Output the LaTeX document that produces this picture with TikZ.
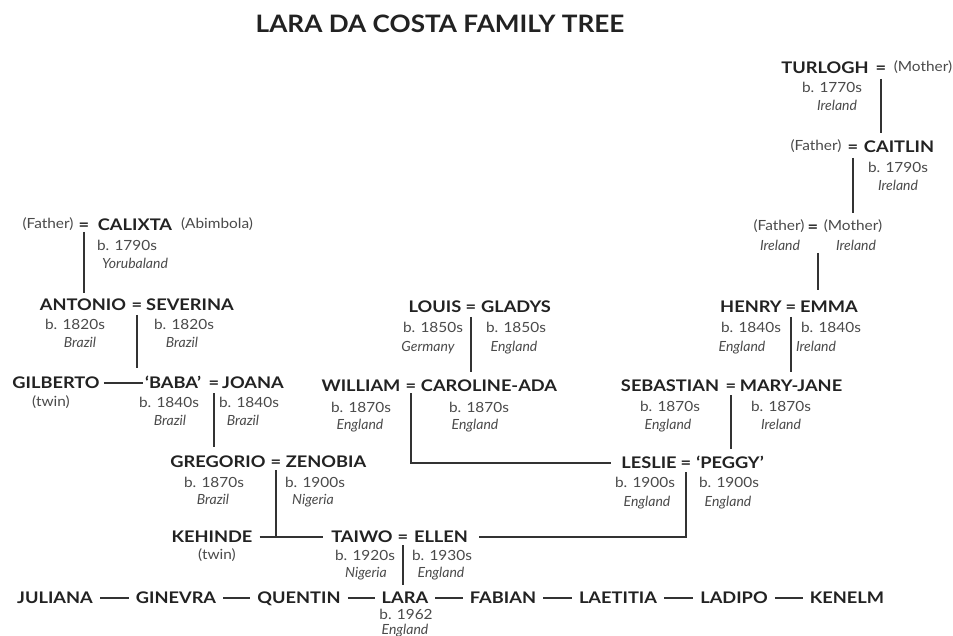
\documentclass[tikz,border=0pt]{standalone}
\usepackage{fontspec}
\setmainfont{Lato}
\newfontfamily\namefont[FakeStretch=1.14]{Lato}
\newfontfamily\titlefont[FakeStretch=1.09]{Lato}
\newfontfamily\detfont[FakeStretch=1.1]{Lato}
\definecolor{namec}{HTML}{222222}
\definecolor{detc}{HTML}{4a4a4a}
\definecolor{linec}{HTML}{333333}
\begin{document}
\begin{tikzpicture}[x=1pt,y=-1pt,
  title/.style={font=\titlefont\fontsize{24}{28}\selectfont\bfseries, text=namec, inner sep=1pt},
  nm/.style={font=\namefont\fontsize{16}{18}\selectfont\bfseries, text=namec, inner sep=1pt, text height=11.5pt, text depth=0pt},
  pr/.style={font=\detfont\fontsize{14}{16}\selectfont, text=detc, inner sep=1pt, text height=10pt, text depth=2pt},
  bd/.style={font=\detfont\fontsize{14}{16}\selectfont, text=detc, inner sep=1pt, text height=10pt, text depth=0pt},
  pl/.style={font=\fontsize{14}{16}\selectfont\itshape, text=detc, inner sep=1pt, text height=10pt, text depth=2pt},
  ln/.style={draw=linec, line width=1.6pt},
  vl/.style={ln, shorten <=9pt, shorten >=7pt},
  sib/.style={ln, shorten <=6pt, shorten >=6pt}]
\fill[white] (0,0) rectangle (953,636);
\useasboundingbox (0,0) rectangle (953,636);

\node[title] (title) at (440,24) {LARA DA COSTA FAMILY TREE};

% Turlogh
\node[nm] (turlogh) at (825,68) {TURLOGH};
\node[nm] (eqT) at (881,68) {=};
\node[pr] (motherT) at (923,68) {(Mother)};
\node[bd] (turloghB) at (832,88) {b. 1770s};
\node[pl] (turloghP) at (837,107) {Ireland};

% Caitlin
\node[pr] (fatherC) at (816,147) {(Father)};
\node[nm] (eqC) at (853,147) {=};
\node[nm] (caitlin) at (899,147) {CAITLIN};
\node[bd] (caitlinB) at (898,168) {b. 1790s};
\node[pl] (caitlinP) at (898,187) {Ireland};

% Parents of Henry
\node[pr] (fatherE) at (779,227) {(Father)};
\node[nm] (eqE) at (813,227) {=};
\node[pr] (motherE) at (853,227) {(Mother)};
\node[pl] (fatherEP) at (780,247) {Ireland};
\node[pl] (motherEP) at (856,247) {Ireland};

% Henry
\node[nm] (henry) at (751,307) {HENRY};
\node[nm] (eqH) at (791,307) {=};
\node[nm] (emma) at (829,307) {EMMA};
\node[bd] (henryB) at (751,328) {b. 1840s};
\node[bd] (emmaB) at (831,328) {b. 1840s};
\node[pl] (henryP) at (742,347) {England};
\node[pl] (emmaP) at (816,347) {Ireland};

% Sebastian
\node[nm] (sebastian) at (670,386) {SEBASTIAN};
\node[nm] (eqS) at (731,386) {=};
\node[nm] (maryjane) at (791,386) {MARY-JANE};
\node[bd] (sebastianB) at (670,406) {b. 1870s};
\node[bd] (maryjaneB) at (781,406) {b. 1870s};
\node[pl] (sebastianP) at (668,425) {England};
\node[pl] (maryjaneP) at (781,425) {Ireland};

% Leslie
\node[nm] (leslie) at (649,463) {LESLIE};
\node[nm] (eqL) at (686,463) {=};
\node[nm] (peggy) at (730,463) {‘PEGGY’};
\node[bd] (leslieB) at (645,482) {b. 1900s};
\node[bd] (peggyB) at (729,482) {b. 1900s};
\node[pl] (leslieP) at (647,502) {England};
\node[pl] (peggyP) at (728,502) {England};

% Louis
\node[nm] (louis) at (435,307) {LOUIS};
\node[nm] (eqLo) at (471,307) {=};
\node[nm] (gladys) at (516,307) {GLADYS};
\node[bd] (louisB) at (433,328) {b. 1850s};
\node[bd] (gladysB) at (516,328) {b. 1850s};
\node[pl] (louisP) at (428,347) {Germany};
\node[pl] (gladysP) at (514,347) {England};

% William
\node[nm] (william) at (361,386) {WILLIAM};
\node[nm] (eqW) at (411,386) {=};
\node[nm] (caroline) at (489,386) {CAROLINE-ADA};
\node[bd] (williamB) at (361,407) {b. 1870s};
\node[bd] (carolineB) at (479,407) {b. 1870s};
\node[pl] (williamP) at (360,425) {England};
\node[pl] (carolineP) at (475,425) {England};

% Calixta
\node[pr] (fatherX) at (48,225) {(Father)};
\node[nm] (eqX) at (84,225) {=};
\node[nm] (calixta) at (135,225) {CALIXTA};
\node[pr] (abimbola) at (217,225) {(Abimbola)};
\node[bd] (calixtaB) at (127,246) {b. 1790s};
\node[pl] (calixtaP) at (135,265) {Yorubaland};

% Antonio
\node[nm] (antonio) at (83,305) {ANTONIO};
\node[nm] (eqA) at (137,305) {=};
\node[nm] (severina) at (190,305) {SEVERINA};
\node[bd] (antonioB) at (75,325) {b. 1820s};
\node[bd] (severinaB) at (184,325) {b. 1820s};
\node[pl] (antonioP) at (80,343) {Brazil};
\node[pl] (severinaP) at (182,343) {Brazil};

% Gilberto / Baba
\node[nm] (gilberto) at (56,383) {GILBERTO};
\node[pr] (gilbertoT) at (51,402) {(twin)};
\node[nm] (baba) at (173,383) {‘BABA’};
\node[nm] (eqB) at (214,383) {=};
\node[nm] (joana) at (253,383) {JOANA};
\node[bd] (babaB) at (169,402) {b. 1840s};
\node[bd] (joanaB) at (249,402) {b. 1840s};
\node[pl] (babaP) at (170,421) {Brazil};
\node[pl] (joanaP) at (243,421) {Brazil};

% Gregorio
\node[nm] (gregorio) at (218,462) {GREGORIO};
\node[nm] (eqG) at (276,462) {=};
\node[nm] (zenobia) at (326,462) {ZENOBIA};
\node[bd] (gregorioB) at (214,482) {b. 1870s};
\node[bd] (zenobiaB) at (315,482) {b. 1900s};
\node[pl] (gregorioP) at (213,500) {Brazil};
\node[pl] (zenobiaP) at (313,500) {Nigeria};

% Kehinde / Taiwo
\node[nm] (kehinde) at (212,537) {KEHINDE};
\node[pr] (kehindeT) at (217,555) {(twin)};
\node[nm] (taiwo) at (362,537) {TAIWO};
\node[nm] (eqTw) at (403,537) {=};
\node[nm] (ellen) at (441,537) {ELLEN};
\node[bd] (taiwoB) at (365,555) {b. 1920s};
\node[bd] (ellenB) at (442,555) {b. 1930s};
\node[pl] (taiwoP) at (366,573) {Nigeria};
\node[pl] (ellenP) at (441,573) {England};

% Bottom row
\node[nm] (juliana) at (55,598) {JULIANA};
\node[nm] (ginevra) at (176,598) {GINEVRA};
\node[nm] (quentin) at (299,598) {QUENTIN};
\node[nm] (lara) at (405,598) {LARA};
\node[nm] (fabian) at (503,598) {FABIAN};
\node[nm] (laetitia) at (618,598) {LAETITIA};
\node[nm] (ladipo) at (734,598) {LADIPO};
\node[nm] (kenelm) at (847,598) {KENELM};
\node[bd] (laraB) at (406,614) {b. 1962};
\node[pl] (laraP) at (405,630) {England};

% Descent lines
\draw[vl, shorten <=11pt] (eqT.center) -- (eqT.center |- caitlin.north);
\draw[vl, shorten <=11pt] (eqC.center) -- (eqC.center |- eqE.north);
\draw[vl, shorten <=26pt, shorten >=10pt] ([xshift=5pt]eqE.center) -- ([xshift=5pt]eqE.center |- emma.north);
\draw[vl, shorten <=10pt] (eqH.center) -- (eqH.center |- maryjane.north);
\draw[vl] (eqS.center) -- (eqS.center |- peggy.north);
\draw[vl, shorten <=10pt] (eqLo.center) -- (eqLo.center |- caroline.north);
\draw[vl, shorten <=7pt, shorten >=5pt] (eqX.center) -- (eqX.center |- antonio.north);
\draw[vl, shorten <=10pt, shorten >=8pt] (eqA.center) -- (eqA.center |- baba.north);
\draw[vl, shorten <=10pt, shorten >=8pt] (eqB.center) -- (eqB.center |- gregorio.north);
\draw[ln, shorten <=8pt] (eqG.center) -- (eqG.center |- taiwo.west);
\draw[vl, shorten <=8pt, shorten >=6pt] (eqTw.center) -- (eqTw.center |- lara.north);
\draw[ln] ([yshift=-7pt]eqW.center) |- ([xshift=-9pt]leslie.west);
\draw[ln] ([yshift=-9pt]eqL.center) |- ([xshift=10pt]ellen.east);

% Sibling lines
\draw[ln, shorten <=3pt, shorten >=1pt] (gilberto.east) -- (baba.west);
\draw[sib, shorten >=7pt] (kehinde.east) -- (taiwo.west);
\draw[sib] (juliana.east) -- (ginevra.west);
\draw[sib] (ginevra.east) -- (quentin.west);
\draw[sib] (quentin.east) -- (lara.west);
\draw[sib] (lara.east) -- (fabian.west);
\draw[sib] (fabian.east) -- (laetitia.west);
\draw[sib] (laetitia.east) -- (ladipo.west);
\draw[sib] (ladipo.east) -- (kenelm.west);
\end{tikzpicture}
\end{document}
